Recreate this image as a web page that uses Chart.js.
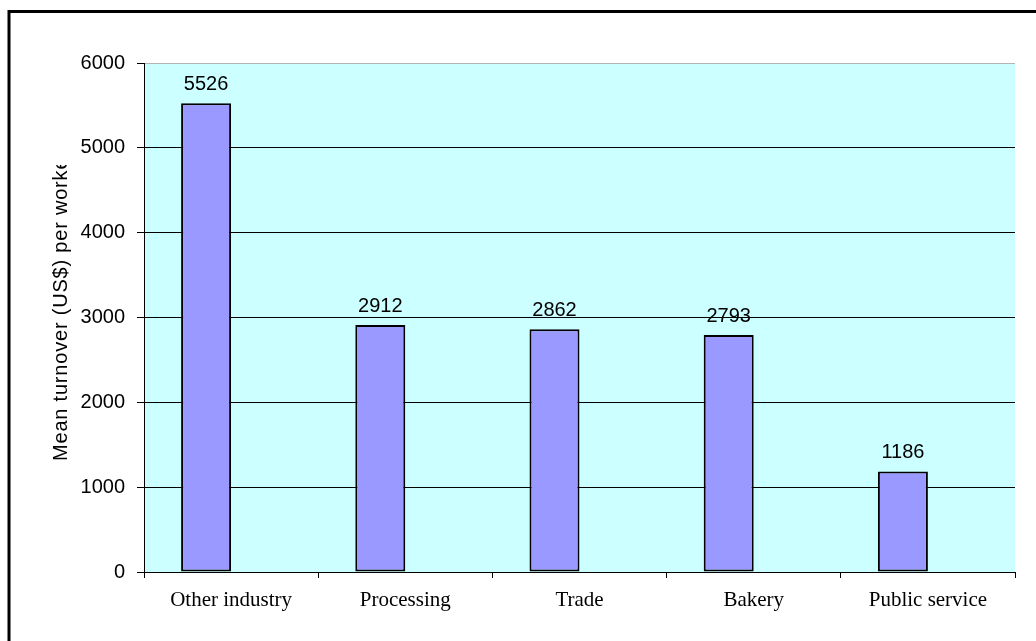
<!DOCTYPE html>
<html>
<head>
<meta charset="utf-8">
<script src="https://cdn.jsdelivr.net/npm/chart.js@4.4.1/dist/chart.umd.min.js"></script>
<style>
html,body{margin:0;padding:0;background:#fff;}
#wrap{width:1036px;height:641px;position:relative;}
</style>
</head>
<body>
<div id="wrap"><canvas id="c" width="1036" height="641"></canvas></div>
<script>
const categories = ['Other industry', 'Processing', 'Trade', 'Bakery', 'Public service'];
const turnover = [5526, 2912, 2862, 2793, 1186];
const emptySeries = [null, null, null, null, null];
const yTicks = [0, 1000, 2000, 3000, 4000, 5000, 6000];
const yTitle = 'Mean turnover (US$) per worker';

const framePlugin = {
  id: 'frame',
  beforeDraw(chart) {
    const ctx = chart.ctx, a = chart.chartArea;
    ctx.save();
    ctx.fillStyle = '#ccffff';
    ctx.fillRect(a.left, a.top, a.right - a.left, a.bottom - a.top);
    ctx.restore();
  },
  afterDraw(chart) {
    const ctx = chart.ctx;
    ctx.save();
    ctx.strokeStyle = '#000';
    ctx.lineWidth = 3;
    ctx.strokeRect(9, 11.5, 1200, 1000);
    // y axis title, clipped like the original
    ctx.beginPath();
    ctx.rect(0, 165, 140, 476);
    ctx.clip();
    ctx.translate(67, 461);
    ctx.rotate(-Math.PI / 2);
    ctx.fillStyle = '#000';
    ctx.font = '20px "Liberation Sans", Arial, sans-serif';
    if ('letterSpacing' in ctx) ctx.letterSpacing = '0.8px';
    ctx.textAlign = 'left';
    ctx.textBaseline = 'alphabetic';
    ctx.fillText(yTitle, 0, 0);
    ctx.restore();
  },
  afterDatasetsDraw(chart) {
    const ctx = chart.ctx;
    const meta = chart.getDatasetMeta(0);
    ctx.save();
    ctx.fillStyle = '#000';
    ctx.font = '20px "Liberation Sans", Arial, sans-serif';
    ctx.textAlign = 'center';
    ctx.textBaseline = 'alphabetic';
    meta.data.forEach((bar, i) => {
      ctx.fillText(String(turnover[i]), bar.x, bar.y - 13);
    });
    ctx.restore();
  }
};

new Chart(document.getElementById('c'), {
  type: 'bar',
  data: {
    labels: categories,
    datasets: [
      { label: 'Turnover', data: turnover, backgroundColor: '#9999ff', borderColor: '#000', borderWidth: 2, borderSkipped: false },
      { label: '', data: emptySeries, backgroundColor: '#9999ff' }
    ]
  },
  options: {
    responsive: false,
    animation: false,
    devicePixelRatio: 1,
    layout: { padding: { top: 63, right: 21, left: 0, bottom: 0 } },
    categoryPercentage: 100 / 174.2,
    barPercentage: 1.0,
    plugins: { legend: { display: false }, tooltip: { enabled: false } },
    scales: {
      x: {
        offset: true,
        grid: { offset: true, drawOnChartArea: false, drawTicks: true, tickLength: 6, color: '#000', lineWidth: 1 },
        border: { display: true, color: '#000', width: 1 },
        ticks: { color: '#000', padding: 10, font: { family: '"Liberation Serif", "Times New Roman", serif', size: 21 }, maxRotation: 0 },
        afterFit(scale) { scale.height = 69; }
      },
      y: {
        min: 0, max: 6000,
        afterBuildTicks(scale) { scale.ticks = yTicks.map(v => ({ value: v })); },
        grid: {
          color: (c) => (c.tick && c.tick.value === 6000) ? '#b4b4b4' : '#000',
          tickColor: '#000', tickLength: 7, lineWidth: 1
        },
        border: { display: true, color: '#000', width: 1 },
        ticks: { color: '#000', padding: 12, callback: (v) => String(v), font: { family: '"Liberation Sans", Arial, sans-serif', size: 20 } },
        afterFit(scale) { scale.width = 144; }
      }
    }
  },
  plugins: [framePlugin]
});
</script>
</body>
</html>
